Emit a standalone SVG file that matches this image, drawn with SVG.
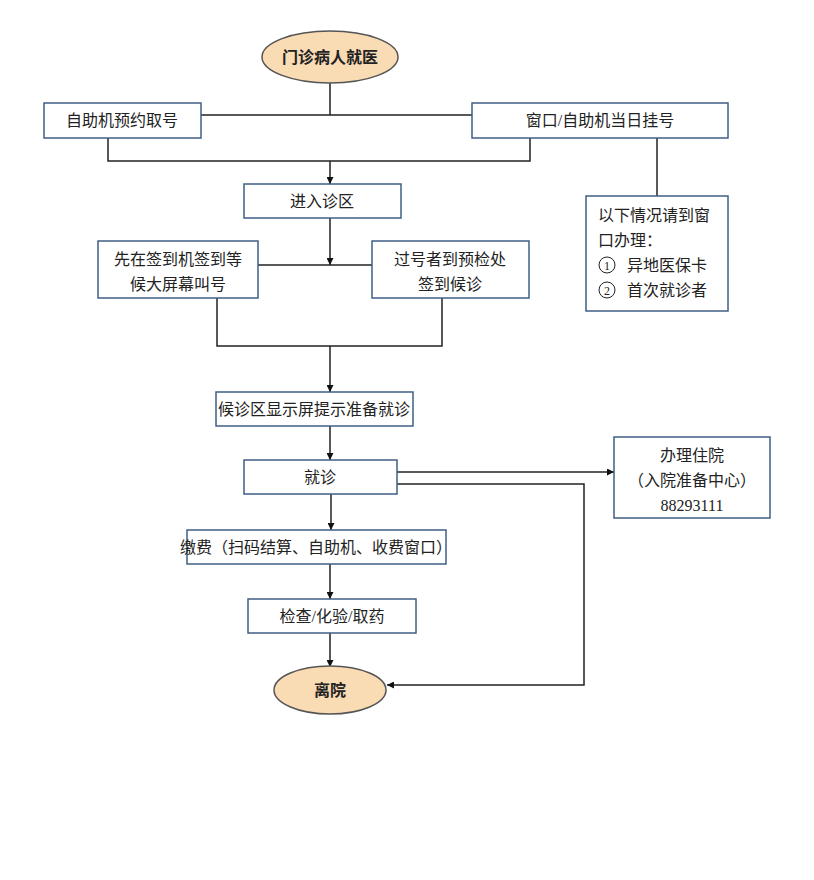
<svg xmlns="http://www.w3.org/2000/svg" width="814" height="880" viewBox="0 0 814 880">
<defs>
<marker id="ah" viewBox="0 0 10 10" refX="10" refY="5" markerWidth="7" markerHeight="7" orient="auto" markerUnits="userSpaceOnUse"><path d="M0,0 L10,5 L0,10 z" fill="#111"/></marker>
<style>
.b{fill:#fff;stroke:#3f5f84;stroke-width:1.5}
.e{fill:#f9dbb4;stroke:#555;stroke-width:1.5}
.t{font-family:"Liberation Serif","Noto Sans CJK SC",serif;font-size:16px;fill:#222;text-anchor:middle}
.tb{font-weight:bold}
.c{fill:none;stroke:#222;stroke-width:1.5}
.a{marker-end:url(#ah)}
</style>
</defs>
<rect width="814" height="880" fill="#fff"/>
<g id="connectors">
<path class="c" d="M330,83V115M201,115H472"/>
<path class="c" d="M108,138V161H530V138"/>
<path class="c a" d="M330,161V184"/>
<path class="c" d="M657,138V196"/>
<path class="c a" d="M330,218V265"/>
<path class="c" d="M258,265H372"/>
<path class="c" d="M217,298V346H442V298"/>
<path class="c a" d="M330,346V392"/>
<path class="c a" d="M330,426V460"/>
<path class="c a" d="M397,472H614"/>
<path class="c a" d="M397,484H584V685H387"/>
<path class="c a" d="M331,494V530"/>
<path class="c a" d="M330,564V599"/>
<path class="c a" d="M330,633V667"/>
</g>
<g id="start"><ellipse class="e" cx="330" cy="57" rx="68" ry="26"/><text class="t tb" x="330" y="63">门诊病人就医</text></g>
<g id="n1"><rect class="b" x="44" y="103" width="157" height="35"/><text class="t" x="122" y="126">自助机预约取号</text></g>
<g id="n2"><rect class="b" x="472" y="103" width="256" height="35"/><text class="t" x="600" y="126">窗口/自助机当日挂号</text></g>
<g id="n3"><rect class="b" x="244" y="184" width="157" height="34"/><text class="t" x="322" y="207">进入诊区</text></g>
<g id="note"><rect class="b" x="586" y="196" width="142" height="115"/>
<text class="t" x="598" y="221" style="text-anchor:start">以下情况请到窗</text>
<text class="t" x="598" y="246" style="text-anchor:start">口办理：</text>
<circle cx="607" cy="265" r="8" fill="none" stroke="#222"/><text class="t" x="607" y="270" style="font-size:12px">1</text>
<text class="t" x="627" y="271" style="text-anchor:start">异地医保卡</text>
<circle cx="607" cy="290" r="8" fill="none" stroke="#222"/><text class="t" x="607" y="295" style="font-size:12px">2</text>
<text class="t" x="627" y="296" style="text-anchor:start">首次就诊者</text>
</g>
<g id="n4"><rect class="b" x="98" y="241" width="160" height="57"/><text class="t" x="178" y="265">先在签到机签到等</text><text class="t" x="178" y="290">候大屏幕叫号</text></g>
<g id="n5"><rect class="b" x="372" y="241" width="157" height="57"/><text class="t" x="450" y="265">过号者到预检处</text><text class="t" x="450" y="290">签到候诊</text></g>
<g id="n6"><rect class="b" x="216" y="392" width="197" height="34"/><text class="t" x="314" y="415">候诊区显示屏提示准备就诊</text></g>
<g id="n7"><rect class="b" x="244" y="460" width="153" height="34"/><text class="t" x="320" y="483">就诊</text></g>
<g id="n8"><rect class="b" x="614" y="437" width="156" height="81"/><text class="t" x="692" y="461">办理住院</text><text class="t" x="692" y="486">（入院准备中心）</text><text class="t" x="692" y="511">88293111</text></g>
<g id="n9"><rect class="b" x="187" y="530" width="259" height="34"/><text class="t" x="316" y="553">缴费（扫码结算、自助机、收费窗口）</text></g>
<g id="n10"><rect class="b" x="248" y="599" width="168" height="34"/><text class="t" x="332" y="622">检查/化验/取药</text></g>
<g id="end"><ellipse class="e" cx="330" cy="690" rx="56" ry="24"/><text class="t tb" x="330" y="696">离院</text></g>
</svg>
